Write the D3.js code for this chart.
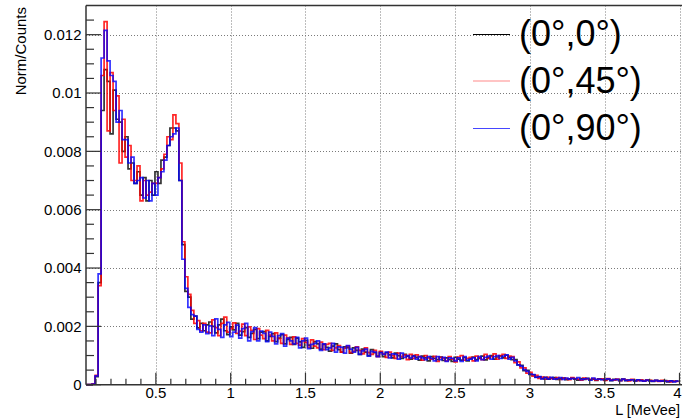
<!DOCTYPE html>
<html>
<head>
<meta charset="utf-8">
<script src="https://cdn.jsdelivr.net/npm/d3@7"></script>
<style>
  html, body { margin: 0; padding: 0; background: #fff; }
  svg { display: block; font-family: "Liberation Sans", Arial, Helvetica, sans-serif; }
</style>
</head>
<body>
<svg id="chart" width="682" height="419"></svg>
<script>
// ---- Data (values in units of 1e-5 Norm/Counts), 0.02-wide bins starting at 0.034 MeVee ----
const binStart = 0.034;
const binWidth = 0.02;
const seriesNames = ["(0°,0°)", "(0°,45°)", "(0°,90°)"];
const seriesColors = ["rgba(0,0,0,0.8)", "rgba(255,0,0,0.85)", "rgba(0,0,255,0.8)"];
const legendColors = ["#000000", "#ff8a8a", "#4646ff"];

const countsA = [
  0, 0, 2, 28, 350, 940, 1080, 1040, 860, 1010, 910, 900, 800, 850, 740, 760, 690, 730, 650, 710,
  630, 700, 650, 730, 690, 770, 780, 820, 880, 880, 870, 700, 480, 320, 300, 225, 235, 195, 210, 185, 205,
  215, 200, 178, 205, 225, 185, 172, 198,
  188, 210, 170, 182, 196, 162, 176, 190, 158, 180,
  182, 150, 166, 175, 148, 160, 172, 140, 155, 162,
  138, 160, 147, 128, 152, 136, 125, 148, 140, 122,
  138, 128, 115, 132, 140, 120, 112, 130, 127, 108,
  126, 118, 104, 122, 112, 100, 120, 110, 98, 112,
  96, 110, 102, 92, 108, 100, 90, 104, 98, 88,
  100, 94, 84, 98, 92, 82, 96, 90, 86, 95,
  83, 92, 86, 80, 94, 88, 84, 93, 82, 89,
  95, 86, 90, 98, 85, 93, 100, 88, 95, 99,
  92, 101, 94, 86, 86, 68, 66, 48, 49, 35,
  34, 26, 27, 21,
  25, 19, 22, 24, 18, 21, 23, 17, 20, 22, 19, 16, 21, 18, 22, 17, 19, 15, 20, 18,
  16, 19, 14, 18, 17, 15, 19, 14, 16, 17, 13, 16, 15, 12, 16, 14, 11, 15, 13, 12,
  14, 10, 13, 11, 12
];
const countsB = [
  0, 0, 3, 32, 340, 1060, 1245, 870, 1070, 940, 990, 760, 910, 780, 820, 700, 700, 750, 630, 700,
  650, 660, 690, 690, 710, 740, 790, 850, 840, 925, 895, 760, 490, 370, 310, 255, 210, 220, 185, 210, 180,
  178, 222, 196, 168, 210, 232, 180, 192,
  212, 176, 184, 208, 168, 198, 186, 155, 192, 170,
  158, 186, 170, 150, 178, 158, 142, 170, 160, 138,
  164, 142, 136, 158, 145, 128, 154, 132, 126, 146,
  120, 138, 142, 118, 126, 134, 112, 125, 132, 110,
  114, 130, 118, 106, 126, 110, 104, 118, 96, 114,
  106, 94, 112, 100, 90, 108, 96, 102, 86, 104,
  90, 102, 96, 84, 100, 92, 88, 97, 80, 94,
  90, 82, 96, 88, 78, 95, 100, 84, 90, 94,
  82, 98, 92, 86, 104, 90, 96, 106, 88, 100,
  104, 90, 98, 96, 76, 78, 58, 58, 40, 42,
  29, 32, 22, 26,
  19, 25, 22, 20, 24, 18, 23, 21, 17, 24, 21, 19, 16, 23, 20, 18, 21, 16, 19, 20,
  15, 21, 17, 16, 19, 14, 18, 17, 13, 18, 15, 14, 17, 12, 16, 15, 13, 14, 11, 15,
  12, 13, 10, 12, 11
];
const countsC = [
  0, 0, 2, 30, 380, 1120, 1215, 1110, 1060, 1040, 900, 940, 840, 840, 760, 780, 690, 700, 710, 640,
  700, 630, 690, 650, 710, 730, 770, 820, 850, 860, 880, 700, 430, 330, 265, 240, 235, 190, 180, 205, 175,
  202, 168, 226, 190, 162, 205, 214, 165,
  180, 204, 160, 192, 210, 150, 182, 196, 150, 184,
  176, 148, 180, 166, 140, 168, 175, 132, 160, 150,
  140, 162, 126, 150, 160, 124, 138, 142, 150, 118,
  140, 120, 126, 142, 112, 130, 128, 108, 134, 122,
  112, 128, 104, 116, 122, 98, 114, 112, 96, 110,
  104, 112, 92, 106, 104, 88, 108, 94, 100, 92,
  98, 88, 96, 92, 86, 96, 90, 82, 96, 86,
  94, 80, 92, 90, 82, 92, 80, 96, 84, 88,
  92, 82, 96, 86, 94, 98, 88, 96, 100, 90,
  98, 102, 88, 94, 82, 68, 64, 52, 46, 36,
  35, 25, 28, 20,
  24, 20, 25, 19, 21, 24, 18, 23, 19, 22, 20, 24, 17, 20, 21, 16, 23, 18, 19, 17,
  18, 20, 15, 17, 18, 14, 19, 15, 16, 17, 13, 17, 14, 12, 16, 13, 12, 15, 12, 13,
  12, 11, 13, 10, 12
];
const xTickValues = [0.5, 1, 1.5, 2, 2.5, 3, 3.5, 4];
const xTickLabels = ["0.5", "1", "1.5", "2", "2.5", "3", "3.5", "4"];
const yTickValues = [0, 0.002, 0.004, 0.006, 0.008, 0.01, 0.012];
const yTickLabels = ["0", "0.002", "0.004", "0.006", "0.008", "0.01", "0.012"];
const xTitle = "L [MeVee]";
const yTitle = "Norm/Counts";

// ---- Drawing ----
const svg = d3.select("#chart");
const L = 86, R = 679.5, T = 5.5, B = 384.7;
const x = d3.scaleLinear().domain([0.033, 4]).range([L, R]);
const y = d3.scaleLinear().domain([0, 0.013]).range([B, T]);

// grid
const grid = svg.append("g").attr("stroke", "#7a7a7a").attr("stroke-dasharray", "1,2").attr("stroke-width", 1);
xTickValues.forEach(v => {
  grid.append("line").attr("x1", Math.round(x(v)) + 0.5).attr("x2", Math.round(x(v)) + 0.5)
    .attr("y1", T).attr("y2", B);
});
yTickValues.filter(v => v > 0).forEach(v => {
  grid.append("line").attr("y1", Math.round(y(v)) + 0.5).attr("y2", Math.round(y(v)) + 0.5)
    .attr("x1", L).attr("x2", 682);
});

// histograms
const allSeries = [countsA, countsB, countsC].map(arr => arr.map(v => v * 1e-5));
const stepLine = d3.line().x(d => x(d[0])).y(d => y(d[1])).curve(d3.curveStepAfter);
allSeries.forEach((vals, k) => {
  const pts = vals.map((v, i) => [binStart + i * binWidth, v]);
  pts.push([binStart + vals.length * binWidth, vals[vals.length - 1]]);
  svg.append("path").datum(pts)
    .attr("d", stepLine)
    .attr("fill", "none")
    .attr("stroke", seriesColors[k])
    .attr("stroke-width", 1.7)
    .attr("stroke-linejoin", "miter");
});

// frame top
svg.append("line").attr("x1", L).attr("x2", 682).attr("y1", T).attr("y2", T)
  .attr("stroke", "#333").attr("stroke-width", 1.5);

// x axis
const gx = svg.append("g").attr("transform", `translate(0,${B})`);
const xMinor = d3.range(1, 40).map(i => i * 0.1).filter(v => Math.abs(v * 2 - Math.round(v * 2)) > 1e-6);
gx.selectAll("line.minor").data(xMinor).join("line")
  .attr("x1", d => x(d)).attr("x2", d => x(d)).attr("y1", 0).attr("y2", -6)
  .attr("stroke", "#333").attr("stroke-width", 1.2);
gx.selectAll("line.major").data(xTickValues).join("line")
  .attr("x1", d => x(d)).attr("x2", d => x(d)).attr("y1", 0).attr("y2", -12)
  .attr("stroke", "#333").attr("stroke-width", 1.2);
gx.append("line").attr("x1", L).attr("x2", 682).attr("y1", 0).attr("y2", 0)
  .attr("stroke", "#333").attr("stroke-width", 1.5);
gx.selectAll("text").data(xTickValues).join("text")
  .attr("x", d => Math.min(x(d), 677.5)).attr("y", 13.5)
  .attr("text-anchor", "middle").attr("font-size", 15).attr("fill", "#000")
  .text((d, i) => xTickLabels[i]);

// y axis
const gy = svg.append("g");
const yMinor = d3.range(1, 26).map(i => i * 0.0005).filter(v => Math.abs(v / 0.002 - Math.round(v / 0.002)) > 1e-6);
gy.selectAll("line.minor").data(yMinor).join("line")
  .attr("x1", L).attr("x2", L + 8).attr("y1", d => y(d)).attr("y2", d => y(d))
  .attr("stroke", "#333").attr("stroke-width", 1.2);
gy.selectAll("line.major").data(yTickValues).join("line")
  .attr("x1", L).attr("x2", L + 15).attr("y1", d => y(d)).attr("y2", d => y(d))
  .attr("stroke", "#333").attr("stroke-width", 1.2);
gy.append("line").attr("x1", L).attr("x2", L).attr("y1", T).attr("y2", B)
  .attr("stroke", "#333").attr("stroke-width", 1.5);
gy.selectAll("text").data(yTickValues).join("text")
  .attr("x", 81.5).attr("y", d => y(d)).attr("dy", "0.36em")
  .attr("text-anchor", "end").attr("font-size", 15).attr("fill", "#000")
  .text((d, i) => yTickLabels[i]);

// axis titles
svg.append("text").attr("x", 680).attr("y", 415)
  .attr("text-anchor", "end").attr("font-size", 14.5).attr("fill", "#000").text(xTitle);
svg.append("text").attr("transform", "translate(26,7) rotate(-90)")
  .attr("text-anchor", "end").attr("font-size", 15).attr("fill", "#000").text(yTitle);

// legend
const legendY = [46, 92.5, 140];
seriesNames.forEach((name, k) => {
  svg.append("line").attr("x1", 473).attr("x2", 510)
    .attr("y1", legendY[k] - 11.5).attr("y2", legendY[k] - 11.5)
    .attr("stroke", legendColors[k]).attr("stroke-width", 1.2);
  svg.append("text").attr("x", 519).attr("y", legendY[k])
    .attr("font-size", 36).attr("fill", "#000").text(name);
});
</script>
</body>
</html>
